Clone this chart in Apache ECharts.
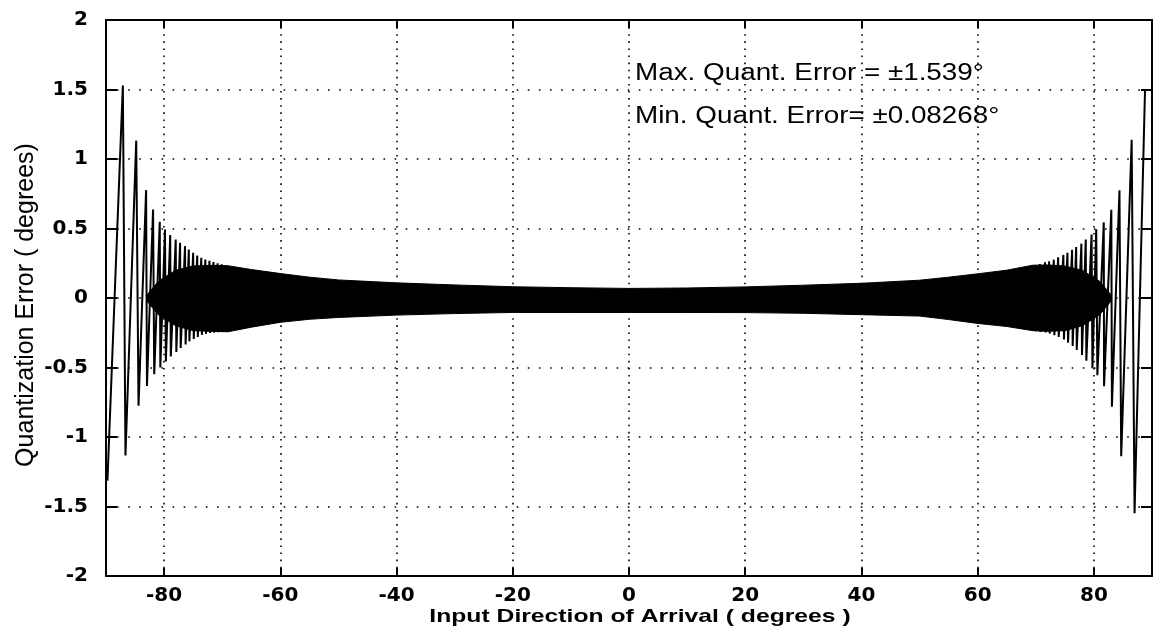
<!DOCTYPE html>
<html><head><meta charset="utf-8">
<script src="https://cdn.jsdelivr.net/npm/echarts@6/dist/echarts.min.js"></script>
<style>html,body{margin:0;padding:0;background:#fff}#c{width:1155px;height:631px}</style>
</head><body><div id="c"></div>
<script>
// ---- tick labels ----
const xTickValues = [-80, -60, -40, -20, 0, 20, 40, 60, 80];
const xTickLabels = ['-80', '-60', '-40', '-20', '0', '20', '40', '60', '80'];
const yTickValues = [-2, -1.5, -1, -0.5, 0, 0.5, 1, 1.5, 2];
const yTickLabels = ['-2', '-1.5', '-1', '-0.5', '0', '0.5', '1', '1.5', '2'];

// ---- dense central band (envelope of the quantization error) ----
const bandX     = [-83, -81, -78, -75, -72, -69, -65, -60, -55, -50, -40, -30, -20, -10, 0, 10, 20, 30, 40, 50, 55, 60, 65, 69.5, 72, 75, 78, 81, 83];
const bandUpper = [0.02, 0.12, 0.2, 0.23, 0.235, 0.232, 0.205, 0.176, 0.15, 0.13, 0.109, 0.094, 0.081, 0.074, 0.069, 0.072, 0.08, 0.092, 0.106, 0.128, 0.15, 0.174, 0.2, 0.236, 0.238, 0.23, 0.2, 0.12, 0.02];
const bandLower = [-0.02, -0.12, -0.2, -0.235, -0.24, -0.243, -0.21, -0.175, -0.153, -0.14, -0.123, -0.112, -0.104, -0.104, -0.104, -0.104, -0.105, -0.11, -0.12, -0.13, -0.155, -0.183, -0.205, -0.235, -0.24, -0.235, -0.2, -0.12, -0.02];

// ---- individual error swings near the left end-fire edge ----
const leftX = [-89.75, -87.1, -86.65, -84.8, -84.4, -83.1, -82.95, -81.9, -81.7, -80.75, -80.65, -79.85, -79.7, -78.95, -78.85, -78.0, -77.9, -77.25, -77.15, -76.4, -76.3, -75.75, -75.65, -75.0, -74.9, -74.3, -74.2, -73.6, -73.5, -72.9, -72.8, -72.2, -72.1, -71.5, -71.4, -70.8, -70.7, -70.1, -70.0, -69.4, -69.3];
const leftY = [-1.314, 1.529, -1.133, 1.132, -0.775, 0.776, -0.633, 0.637, -0.549, 0.548, -0.5, 0.493, -0.457, 0.453, -0.42, 0.421, -0.389, 0.397, -0.36, 0.373, -0.335, 0.349, -0.312, 0.325, -0.295, 0.306, -0.28, 0.289, -0.265, 0.277, -0.258, 0.268, -0.252, 0.259, -0.249, 0.25, -0.246, 0.242, -0.244, 0.236, -0.243];

// ---- individual error swings near the right end-fire edge ----
const rightX = [69.9, 70.0, 70.7, 70.8, 71.6, 71.7, 72.3, 72.4, 73.1, 73.2, 73.85, 73.95, 74.75, 74.85, 75.45, 75.55, 76.25, 76.35, 76.95, 77.05, 77.85, 77.95, 78.6, 78.7, 79.6, 79.75, 80.4, 80.6, 81.7, 81.75, 83.0, 83.1, 84.4, 84.7, 86.5, 87.0, 88.8];
const rightY = [0.237, -0.239, 0.245, -0.244, 0.257, -0.248, 0.264, -0.256, 0.276, -0.268, 0.293, -0.28, 0.31, -0.298, 0.325, -0.322, 0.347, -0.345, 0.367, -0.374, 0.391, -0.41, 0.42, -0.452, 0.456, -0.505, 0.495, -0.555, 0.544, -0.634, 0.634, -0.783, 0.775, -1.139, 1.139, -1.548, 1.5];

const annotations = ['Max. Quant. Error = \u00b11.539\u00b0', 'Min. Quant. Error= \u00b10.08268\u00b0'];
const xTitle = 'Input Direction of Arrival ( degrees )';
const yTitle = 'Quantization Error ( degrees)';

const pairs = (xs, ys) => xs.map((x, i) => [x, ys[i]]);
const lbl = (vals, labels) => v => { const i = vals.findIndex(t => Math.abs(t - v) < 1e-9); return i < 0 ? '' : labels[i]; };

const black = '#000';
const tickFont = { color: black, fontFamily: 'DejaVu Sans', fontWeight: 'bold', fontSize: 20 };

const chart = echarts.init(document.getElementById('c'), null, { renderer: 'canvas' });
chart.setOption({
  animation: false,
  backgroundColor: '#fff',
  grid: { left: 106, right: -8, top: 20, bottom: 55, containLabel: false },
  xAxis: [{
    type: 'value', min: -90, max: 90, splitNumber: 9, minInterval: 20, maxInterval: 20, position: 'bottom',
    axisLine: { show: true, onZero: false, lineStyle: { color: black, width: 2 } },
    axisTick: { show: true, inside: true, length: 8, lineStyle: { color: black, width: 2 } },
    axisLabel: Object.assign({ margin: 10, formatter: lbl(xTickValues, xTickLabels) }, tickFont),
    splitLine: { show: true, lineStyle: { color: black, width: 1.6, type: [1.6, 5.5] } }
  }, {
    type: 'value', min: -90, max: 90, splitNumber: 9, minInterval: 20, maxInterval: 20, position: 'top',
    axisLine: { show: true, onZero: false, lineStyle: { color: black, width: 2 } },
    axisTick: { show: true, inside: true, length: 8, lineStyle: { color: black, width: 2 } },
    axisLabel: { show: false }, splitLine: { show: false }
  }],
  yAxis: [{
    type: 'value', min: -2, max: 2, interval: 0.5, position: 'left',
    axisLine: { show: true, onZero: false, lineStyle: { color: black, width: 2 } },
    axisTick: { show: true, inside: true, length: 11, lineStyle: { color: black, width: 2 } },
    axisLabel: Object.assign({ margin: 18, formatter: lbl(yTickValues, yTickLabels) }, tickFont),
    splitLine: { show: true, lineStyle: { color: black, width: 1.6, type: [1.6, 9.5] } }
  }, {
    type: 'value', min: -2, max: 2, interval: 0.5, position: 'right',
    axisLine: { show: true, onZero: false, lineStyle: { color: black, width: 2 } },
    axisTick: { show: true, inside: true, length: 11, lineStyle: { color: black, width: 2 } },
    axisLabel: { show: false }, splitLine: { show: false }
  }],
  series: [
    { type: 'line', data: pairs(bandX, bandUpper), symbol: 'none', lineStyle: { color: black, width: 1 }, areaStyle: { color: black, opacity: 1 } },
    { type: 'line', data: pairs(bandX, bandLower), symbol: 'none', lineStyle: { color: black, width: 1 }, areaStyle: { color: black, opacity: 1 } },
    { type: 'line', data: pairs(leftX, leftY), symbol: 'none', lineStyle: { color: black, width: 2 } },
    { type: 'line', data: pairs(rightX, rightY), symbol: 'none', lineStyle: { color: black, width: 2 } }
  ],
  graphic: [
    { type: 'text', x: 635, y: 74, scaleX: 1.21, style: { text: annotations[0], font: '23px "Liberation Sans"', fill: black, align: 'left', verticalAlign: 'middle' } },
    { type: 'text', x: 635, y: 117, scaleX: 1.21, style: { text: annotations[1], font: '23px "Liberation Sans"', fill: black, align: 'left', verticalAlign: 'middle' } },
    { type: 'text', x: 640, y: 617, scaleX: 1.3, style: { text: xTitle, font: 'bold 19px "Liberation Sans"', fill: black, align: 'center', verticalAlign: 'middle' } },
    { type: 'text', x: 26, y: 305, rotation: Math.PI / 2, style: { text: yTitle, font: '25px "Liberation Sans Narrow", "Liberation Sans"', fill: black, align: 'center', verticalAlign: 'middle' } }
  ]
});
</script>
</body></html>
